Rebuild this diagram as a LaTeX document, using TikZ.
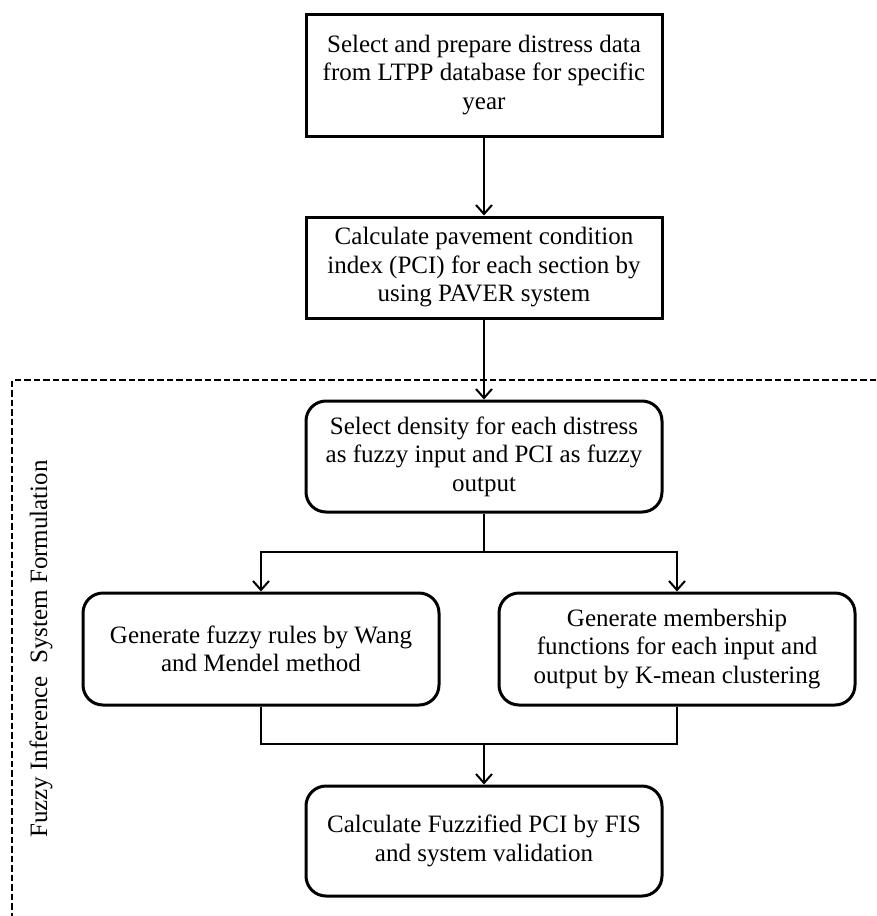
\documentclass[tikz,border=0pt]{standalone}
\usepackage{fontspec}
\setmainfont{Liberation Serif}
\usetikzlibrary{arrows.meta}
\begin{document}
\begin{tikzpicture}[x=1pt,y=-1pt,
  txt/.style={font=\fontsize{25}{28.5}\selectfont, align=center, inner sep=0pt},
  sqbox/.style={txt, draw, line width=3pt, minimum width=356pt, minimum height=#1},
  rbox/.style={txt, draw, line width=3pt, rounded corners=20pt, minimum width=356pt, minimum height=#1},
  arr/.style={line width=2pt, -{Straight Barb[length=9pt,width=16pt,line width=2pt]}},
  conn/.style={line width=2pt},
  frame/.style={line width=2pt, dash pattern=on 6.5pt off 3pt}
]
\useasboundingbox (0,0) rectangle (876,916);
% dashed frame
\coordinate (fr1) at (876,380);
\coordinate (fr2) at (12,380);
\coordinate (fr3) at (12,916);
\draw[frame] (fr1) -- (fr2) -- (fr3);
\node[txt, rotate=90] (lbl) at (41,649) {Fuzzy Inference\hspace{0.25em} System Formulation};
% boxes
\node[sqbox=122pt] (b1) at (484,75) {Select and prepare distress data\\from LTPP database for specific\\year};
\node[sqbox=101pt] (b2) at (484,267.5) {Calculate pavement condition\\index (PCI) for each section by\\using PAVER system};
\node[rbox=111pt] (b3) at (484,456.5) {Select density for each distress\\as fuzzy input and PCI as fuzzy\\output};
\node[rbox=112pt] (b4) at (261,649) {Generate fuzzy rules by Wang\\and Mendel method};
\node[rbox=112pt] (b5) at (677,649) {Generate membership\\functions for each input and\\output by K-mean clustering};
\node[rbox=110pt] (b6) at (484,841) {Calculate Fuzzified PCI by FIS\\and system validation};
% connectors
\coordinate (split) at (484,552);
\coordinate (merge) at (484,744);
\draw[arr] (b1) -- (b2);
\draw[arr] (b2) -- (b3);
\draw[conn] (b3.south) -- (split);
\draw[arr] (split) -| (b4.north);
\draw[arr] (split) -| (b5.north);
\draw[conn] (b4.south) |- (merge);
\draw[conn] (b5.south) |- (merge);
\draw[arr] (merge) -- (b6.north);
\end{tikzpicture}
\end{document}
